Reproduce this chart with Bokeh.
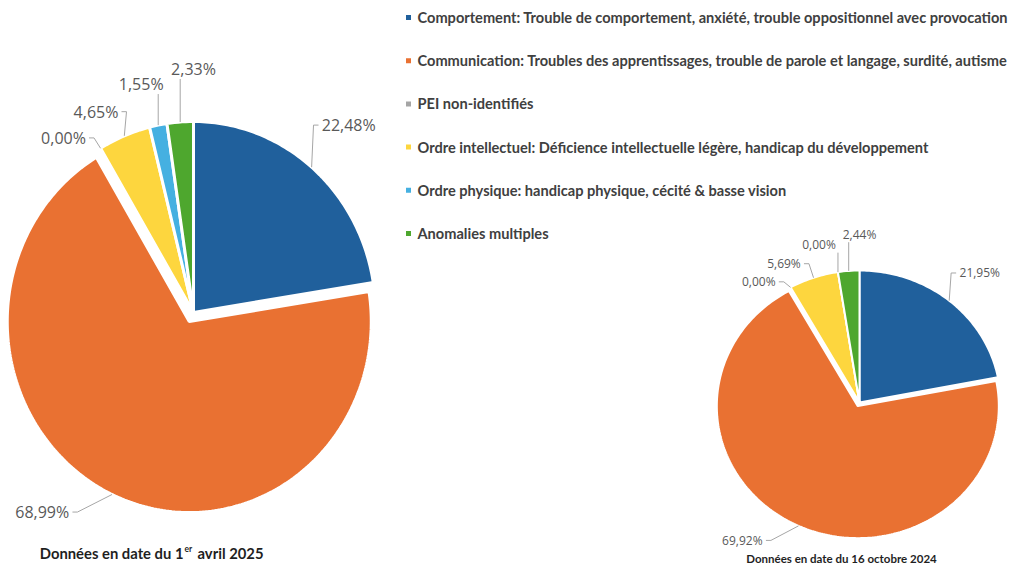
import numpy as np
from bokeh.plotting import figure
from bokeh.models import Range1d, ColumnDataSource
from bokeh.core.properties import value
from bokeh.embed import file_html
from bokeh.resources import INLINE

# ---------------- data ----------------
categories = [
    "Comportement: Trouble de comportement, anxiété, trouble oppositionnel avec provocation",
    "Communication: Troubles des apprentissages, trouble de parole et langage, surdité, autisme",
    "PEI non-identifiés",
    "Ordre intellectuel: Déficience intellectuelle légère, handicap du développement",
    "Ordre physique: handicap physique, cécité & basse vision",
    "Anomalies multiples",
]
values_2025 = [22.48, 68.99, 0.00, 4.65, 1.55, 2.33]
values_2024 = [21.95, 69.92, 0.00, 5.69, 0.00, 2.44]
colors = ["#20609C", "#E97132", "#A5A5A5", "#FDD63E", "#45B0E1", "#4EA72E"]

caption_2025 = ["Données en date du 1", "er", " avril 2025"]
caption_2024 = "Données en date du 16 octobre 2024"

# ---------------- layout (styling only) ----------------
W, H = 1021, 567
LABEL_ANGLE = [49.0, -128.5, 128.0, 117.0, 103.5, 90.0]
LABEL_R = [1.30, 1.335, 1.16, 1.18, 1.23, 1.275]
LABEL_COLOR = "#595959"
LEADER_COLOR = "#A6A6A6"


def Y(img_y):
    return H - img_y


p = figure(width=W, height=H, output_backend="svg", toolbar_location=None,
           x_range=Range1d(0, W), y_range=Range1d(0, H),
           x_axis_location=None, y_axis_location=None,
           min_border=0, min_border_left=0, min_border_right=0,
           min_border_top=0, min_border_bottom=0)
p.outline_line_color = None
p.xgrid.visible = False
p.ygrid.visible = False
p.background_fill_color = "white"


def fmt(v):
    return f"{v:.2f}".replace(".", ",") + "%"


def draw_pie(vals, cx, cy, rx, ry, explode, lw, font_px, char_w, hh):
    vals = np.array(vals, dtype=float)
    cum = np.concatenate([[0], np.cumsum(vals)])
    a0 = np.deg2rad(90 - 3.6 * cum[:-1])
    a1 = np.deg2rad(90 - 3.6 * cum[1:])
    mids = (a0 + a1) / 2
    xs, ys = [], []
    sx_list, sy_list = [], []
    for i in range(len(vals)):
        ox = explode[i] * np.cos(mids[i])
        oy = explode[i] * np.sin(mids[i])
        n = max(2, int(abs(a1[i] - a0[i]) * 60))
        th = np.linspace(a0[i], a1[i], n)
        px = np.concatenate([[cx + ox], cx + ox + rx * np.cos(th)])
        py = np.concatenate([[cy + oy], cy + oy + ry * np.sin(th)])
        xs.append(px.tolist())
        ys.append(py.tolist())
        sx_list.append(cx + ox + rx * np.cos(mids[i]))
        sy_list.append(cy + oy + ry * np.sin(mids[i]))
    src = ColumnDataSource(dict(xs=xs, ys=ys, color=colors))
    p.patches("xs", "ys", source=src, fill_color="color", line_color="white",
              line_width=lw)

    # labels
    texts = [fmt(v) for v in vals]
    la = np.deg2rad(LABEL_ANGLE)
    lx = cx + np.array(LABEL_R) * rx * np.cos(la)
    ly = cy + np.array(LABEL_R) * ry * np.sin(la)
    p.text(x=lx.tolist(), y=ly.tolist(), text=texts, text_align="center",
           text_baseline="middle", text_color=LABEL_COLOR,
           text_font=value("Open Sans"), text_font_size=f"{font_px}px")

    # leader lines
    lxs, lys = [], []
    for i in range(len(vals)):
        hw = len(texts[i]) * char_w / 2 + 2
        sx, sy = sx_list[i], sy_list[i]
        ex = min(max(sx, lx[i] - hw), lx[i] + hw)
        ey = min(max(sy, ly[i] - hh), ly[i] + hh)
        if sx > lx[i] + hw or sx < lx[i] - hw:
            ey = ly[i]
            sign = 1 if sx > lx[i] else -1
            lxs.append([sx, ex + sign * 5, ex])
            lys.append([sy, ey, ey])
        else:
            lxs.append([sx, ex])
            lys.append([sy, ey])
    p.multi_line(xs=lxs, ys=lys, line_color=LEADER_COLOR, line_width=1)


# big pie (1 avril 2025)
draw_pie(values_2025, 193, Y(312), 182, 191, [0, 10, 0, 0, 0, 0], 3, 16, 9.4, 10)
# small pie (16 octobre 2024)
draw_pie(values_2024, 859, Y(402), 141, 132, [0, 4, 0, 0, 0, 0], 2, 12, 7.2, 8)

# legend
n = len(categories)
leg_y = [Y(17 + 43.2 * i) for i in range(n)]
p.scatter(x=[408] * n, y=leg_y, marker="square", size=5, fill_color=colors,
          line_color=None)
p.text(x=[417] * n, y=leg_y, text=categories, text_baseline="middle",
       text_align="left", text_color="#404040", text_font=value("Lato"),
       text_font_style="bold", text_font_size="14.6px")

# captions
cap_y = Y(552)
p.text(x=[183], y=[cap_y], text=[caption_2025[0]], text_align="right",
       text_baseline="middle", text_color="#1F1F1F", text_font=value("Lato"),
       text_font_style="bold", text_font_size="14.8px")
p.text(x=[184], y=[cap_y + 4], text=[caption_2025[1]], text_align="left",
       text_baseline="middle", text_color="#1F1F1F", text_font=value("Lato"),
       text_font_style="bold", text_font_size="8.5px")
p.text(x=[197], y=[cap_y], text=[caption_2025[2]], text_align="left",
       text_baseline="middle", text_color="#1F1F1F", text_font=value("Lato"),
       text_font_style="bold", text_font_size="14.8px")
p.text(x=[841], y=[Y(558)], text=[caption_2024], text_align="center",
       text_baseline="middle", text_color="#1F1F1F", text_font=value("Lato"),
       text_font_style="bold", text_font_size="11.5px")

open("out.html", "w").write(file_html(p, INLINE))
